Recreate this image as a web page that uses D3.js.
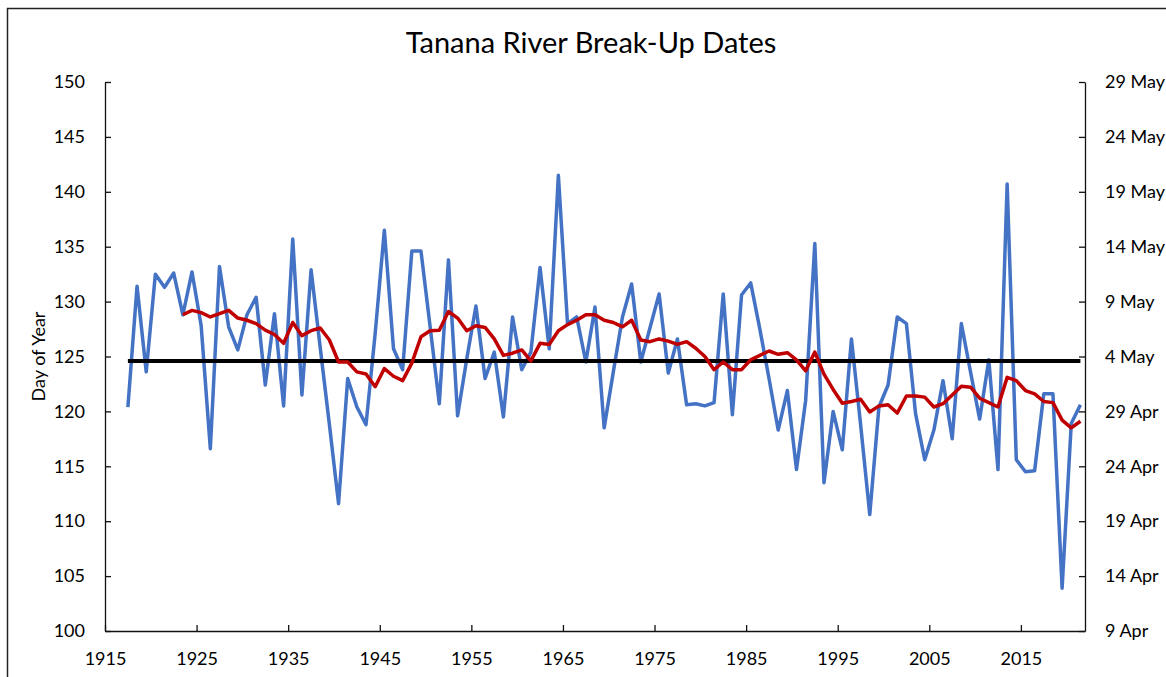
<!DOCTYPE html>
<html>
<head>
<meta charset="utf-8">
<script src="https://d3js.org/d3.v7.min.js"></script>
<style>
  body { margin: 0; background: #fff; }
  text { font-family: Lato, "Open Sans", sans-serif; fill: #000; }
</style>
</head>
<body>
<div id="my_dataviz"></div>
<script>

// break-up day of year, one value per year 1917..2021
var years = d3.range(1917, 2022);
var breakUpDay = [
  120.4, 131.4, 123.6,                                                 // 1917-1919
  132.5, 131.3, 132.6, 128.8, 132.7, 127.8, 116.6, 133.2, 127.7, 125.6, // 1920s
  128.8, 130.4, 122.4, 128.9, 120.5, 135.7, 121.5, 132.9, 125.8, 118.8, // 1930s
  111.6, 123.0, 120.4, 118.8, 127.1, 136.5, 125.7, 123.8, 134.6, 134.6, // 1940s
  127.7, 120.7, 133.8, 119.6, 124.8, 129.6, 123.0, 125.4, 119.5, 128.6, // 1950s
  123.8, 125.4, 133.1, 125.7, 141.5, 128.0, 128.6, 124.5, 129.5, 118.5, // 1960s
  123.6, 128.6, 131.6, 124.5, 127.6, 130.7, 123.5, 126.6, 120.6, 120.7, // 1970s
  120.5, 120.8, 130.7, 119.7, 130.6, 131.7, 127.5, 123.0, 118.3, 121.9, // 1980s
  114.7, 121.0, 135.3, 113.5, 120.0, 116.5, 126.6, 118.8, 110.6, 120.4, // 1990s
  122.4, 128.6, 128.0, 119.8, 115.6, 118.3, 122.8, 117.5, 128.0, 123.6, // 2000s
  119.3, 124.7, 114.7, 140.7, 115.6, 114.5, 114.6, 121.6, 121.6, 103.9, // 2010s
  118.9, 120.6                                                         // 2020-2021
];

// moving average (red line), years 1923..2021
var avgYears = d3.range(1923, 2022);
var movingAvg = [
  128.8, 129.2, 129.0, 128.6, 128.9, 129.2, 128.5,                      // 1923-1929
  128.3, 128.0, 127.4, 127.0, 126.2, 128.1, 126.9, 127.35, 127.6, 126.5, // 1930s
  124.5, 124.5, 123.6, 123.4, 122.25, 123.9, 123.2, 122.8, 124.4, 126.8, // 1940s
  127.35, 127.4, 129.1, 128.5, 127.35, 127.8, 127.65, 126.6, 125.1, 125.3, // 1950s
  125.6, 124.6, 126.2, 126.1, 127.35, 127.9, 128.3, 128.8, 128.8, 128.3, // 1960s
  128.1, 127.7, 128.3, 126.5, 126.35, 126.6, 126.4, 126.1, 126.35, 125.75, // 1970s
  125.0, 123.8, 124.5, 123.8, 123.8, 124.7, 125.1, 125.5, 125.2, 125.35, // 1980s
  124.7, 123.7, 125.4, 123.4, 122.0, 120.75, 120.9, 121.1, 119.95, 120.5, // 1990s
  120.6, 119.85, 121.4, 121.4, 121.3, 120.4, 120.7, 121.5, 122.3, 122.2, // 2000s
  121.2, 120.8, 120.4, 123.1, 122.8, 121.9, 121.6, 120.9, 120.8, 119.2, // 2010s
  118.5, 119.1                                                          // 2020-2021
];

// long-term mean (black line)
var meanDay = 124.6;

// axis ticks
var xTicks = [1915, 1925, 1935, 1945, 1955, 1965, 1975, 1985, 1995, 2005, 2015];
var yTicks = [100, 105, 110, 115, 120, 125, 130, 135, 140, 145, 150];
var dateLabels = ["9 Apr", "14 Apr", "19 Apr", "24 Apr", "29 Apr", "4 May",
                  "9 May", "14 May", "19 May", "24 May", "29 May"];

var W = 1166, H = 677;
var plot = {left: 105, right: 1085, top: 82, bottom: 631};

var svg = d3.select("#my_dataviz")
  .append("svg")
    .attr("width", W)
    .attr("height", H);

// chart frame (runs off the right and bottom edges)
svg.append("rect")
  .attr("x", 7.5)
  .attr("y", 8.5)
  .attr("width", W + 20)
  .attr("height", H + 20)
  .attr("fill", "none")
  .attr("stroke", "#222")
  .attr("stroke-width", 1.5);

// title
svg.append("text")
  .attr("x", 591)
  .attr("y", 53)
  .attr("text-anchor", "middle")
  .style("font-size", "29px")
  .text("Tanana River Break-Up Dates");

var x = d3.scaleLinear()
  .domain([1915, 2022])
  .range([plot.left, plot.right]);

var y = d3.scaleLinear()
  .domain([100, 150])
  .range([plot.bottom, plot.top]);

// points sit mid-year
var px = function(yr) { return x(yr + 0.5); };

// axes, ticks point inward
var styleAxis = function(g) {
  g.selectAll("path, line").attr("stroke", "#111").attr("stroke-width", 1.3);
  g.selectAll("text").style("font-size", "18px").attr("fill", "#000");
};

svg.append("g")
  .attr("transform", "translate(" + plot.left + ",0)")
  .call(d3.axisLeft(y).tickValues(yTicks).tickSize(-6).tickSizeOuter(0).tickPadding(20))
  .call(styleAxis);

svg.append("g")
  .attr("transform", "translate(" + plot.right + ",0)")
  .call(d3.axisRight(y).tickValues(yTicks).tickSize(-6).tickSizeOuter(0).tickPadding(20)
          .tickFormat(function(d, i) { return dateLabels[i]; }))
  .call(styleAxis);

svg.append("g")
  .attr("transform", "translate(0," + plot.bottom + ")")
  .call(d3.axisBottom(x).tickValues(xTicks).tickSize(-6).tickSizeOuter(0).tickPadding(21)
          .tickFormat(d3.format("")))
  .call(styleAxis);

// y axis title
svg.append("text")
  .attr("transform", "translate(45," + ((plot.top + plot.bottom) / 2) + ") rotate(-90)")
  .attr("text-anchor", "middle")
  .style("font-size", "18px")
  .text("Day of Year");

// blue yearly series
svg.append("path")
  .datum(years)
  .attr("fill", "none")
  .attr("stroke", "#4472C4")
  .attr("stroke-width", 3.5)
  .attr("stroke-linejoin", "round")
  .attr("d", d3.line()
    .x(function(d) { return px(d); })
    .y(function(d, i) { return y(breakUpDay[i]); }));

// mean line
svg.append("line")
  .attr("x1", px(years[0]))
  .attr("x2", px(years[years.length - 1]))
  .attr("y1", y(meanDay))
  .attr("y2", y(meanDay))
  .attr("stroke", "#000")
  .attr("stroke-width", 4);

// red moving average
svg.append("path")
  .datum(avgYears)
  .attr("fill", "none")
  .attr("stroke", "#C00000")
  .attr("stroke-width", 3.5)
  .attr("stroke-linejoin", "round")
  .attr("d", d3.line()
    .x(function(d) { return px(d); })
    .y(function(d, i) { return y(movingAvg[i]); }));

</script>
</body>
</html>
